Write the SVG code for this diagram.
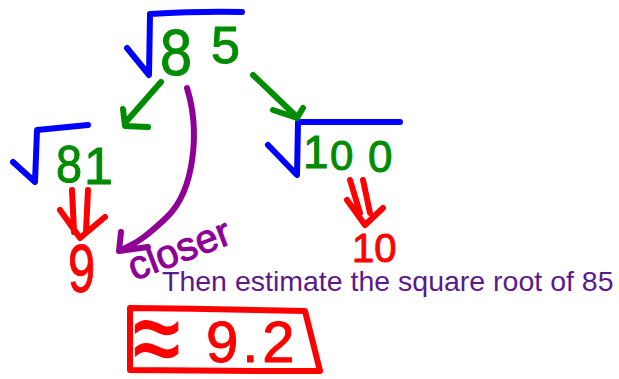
<svg xmlns="http://www.w3.org/2000/svg" width="619" height="379" viewBox="0 0 619 379">
<style>
.ink{fill:none;stroke-linecap:round;stroke-linejoin:round;stroke-width:6}
.blue{stroke:#0000ff}
.green{stroke:#008c00}
.red{stroke:#ff0000}
.purple{stroke:#8e0096}
.hw{font-family:"Liberation Sans",Arial,sans-serif;stroke-width:1;stroke-linejoin:round}
.hg{fill:#008c00;stroke:#008c00}
.hr{fill:#ff0000;stroke:#ff0000}
.hp{fill:#8e0096;stroke:#8e0096}
.note{font-family:"Liberation Sans",Arial,sans-serif;font-size:28.5px;fill:#5b1a8c}
</style>
<rect width="619" height="379" fill="#ffffff"/>
<g id="sqrt85">
<path class="ink blue" d="M127,48 L149,75 L150,14 Q200,11 242,12"/>
<text class="hw hg" transform="translate(160,75) scale(0.9,1)" font-size="64">8</text>
<text class="hw hg" x="211" y="63" font-size="52">5</text>
</g>
<g id="sqrt81">
<path class="ink blue" d="M13,162 L35,182 L37,130 L88,125"/>
<text class="hw hg" transform="translate(56,182) scale(0.9,1)" font-size="52">8</text>
<text class="hw hg" x="84" y="184" font-size="52">1</text>
</g>
<g id="sqrt100">
<path class="ink blue" d="M268,145 L297,175 L298,122 L400,122"/>
<text class="hw hg" x="303" y="168" font-size="46">1</text>
<text class="hw hg" x="330" y="170" font-size="42">0</text>
<text class="hw hg" x="368" y="172" font-size="44">0</text>
</g>
<g id="nine">
<text class="hw hr" transform="translate(68,292) scale(0.72,1)" font-size="68">9</text>
</g>
<g id="ten">
<text class="hw hr" x="352" y="262" font-size="40">10</text>
</g>
<g id="closer">
<text class="hw hp" transform="translate(134,281) rotate(-21)" font-size="40">closer</text>
</g>
<g id="note">
<text class="note" x="162" y="291">Then estimate the square root of 85</text>
</g>
<g id="answer">
<path class="ink red" d="M130,308 Q215,309 305,311 L320,371 Q225,371 130,370 Z"/>
<text class="hw hr" transform="translate(133,376) scale(1,1.3)" font-size="86">≈</text>
<text class="hw hr" x="206" y="362" font-size="58" letter-spacing="4">9.2</text>
</g>
<g id="connectors">
<path class="ink green" d="M161,82 L125,123 M123,109 L125,126 L148,127"/>
<path class="ink green" d="M253,75 L297,117 M273,110 L297,118 L303,108"/>
<path class="ink purple" d="M187,88 C200,130 195,190 167,217 S130,245 122,250 M121,232 L119,251 L148,247"/>
<path class="ink red" d="M72,190 L74,232 M88,190 L86,232 M60,210 L80,238 L105,217"/>
<path class="ink red" d="M350,180 L360,213 M363,180 L370,213 M347,200 L365,225 L383,208"/>
</g>
</svg>
